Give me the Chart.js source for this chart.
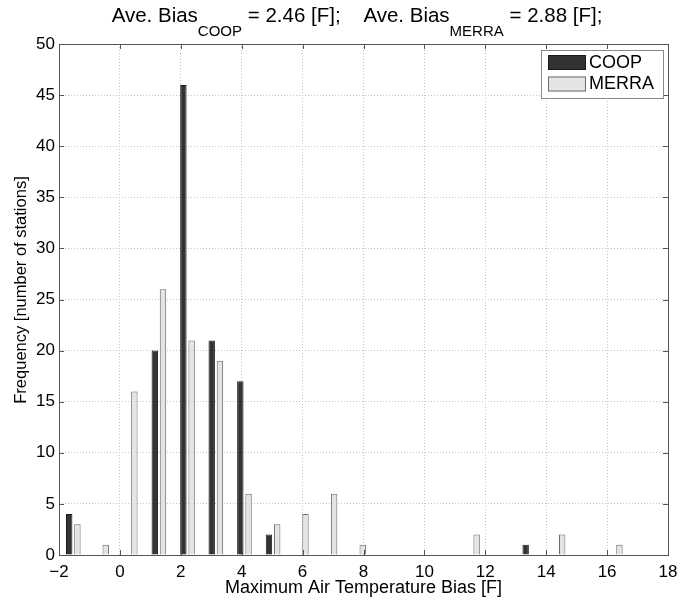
<!DOCTYPE html>
<html>
<head>
<meta charset="utf-8">
<script src="https://cdn.jsdelivr.net/npm/chart.js@4.4.0/dist/chart.umd.min.js"></script>
<style>
  html, body { margin: 0; padding: 0; background: #ffffff; }
  #wrap { width: 678px; height: 602px; position: relative; }
</style>
</head>
<body>
<div id="wrap"><canvas id="chart" width="678" height="602"></canvas></div>
<script>
// Histogram bin centres (degrees F) shared by both series
const binCenters = [-1.53, -0.60, 0.34, 1.28, 2.22, 3.15, 4.09, 5.03, 5.96, 6.90,
                    7.84, 8.77, 9.71, 10.65, 11.58, 12.52, 13.46, 14.39, 15.33, 16.27];
// Station counts per bin
const coopCounts  = [4, 0, 0, 20, 46, 21, 17, 2, 0, 0, 0, 0, 0, 0, 0, 0, 1, 0, 0, 0];
const merraCounts = [3, 1, 16, 26, 21, 19, 6, 3, 4, 6, 1, 0, 0, 0, 2, 0, 0, 2, 0, 1];
const seriesNames = ['COOP', 'MERRA'];
const averageBias = [2.46, 2.88];
const xTicks = [-2, 0, 2, 4, 6, 8, 10, 12, 14, 16, 18];
const yTicks = [0, 5, 10, 15, 20, 25, 30, 35, 40, 45, 50];
const xLabel = 'Maximum Air Temperature Bias [F]';
const yLabel = 'Frequency [number of stations]';

const FONT = '"Liberation Sans", Arial, Helvetica, sans-serif';
const seriesFill = ['#333333', '#e4e4e4'];
const seriesEdge = ['#1a1a1a', '#6a6a6a'];

function toPoints(counts) {
  return binCenters.map((x, i) => ({ x: x, y: counts[i] === 0 ? null : counts[i] }));
}

// Title with subscripted series names, axis labels, boxed frame with inward ticks, legend
const decorations = {
  id: 'decorations',
  afterDraw(chart) {
    const ctx = chart.ctx;
    const a = chart.chartArea;
    const xs = chart.scales.x, ys = chart.scales.y;
    ctx.save();

    // frame
    ctx.strokeStyle = '#555555';
    ctx.lineWidth = 1;
    ctx.strokeRect(Math.round(a.left) + 0.5, Math.round(a.top) + 0.5,
                   Math.round(a.right - a.left), Math.round(a.bottom - a.top));

    // inward tick marks on all four sides
    const tl = 5;
    ctx.beginPath();
    xTicks.forEach(v => {
      const px = Math.round(xs.getPixelForValue(v)) + 0.5;
      ctx.moveTo(px, a.bottom); ctx.lineTo(px, a.bottom - tl);
      ctx.moveTo(px, a.top); ctx.lineTo(px, a.top + tl);
    });
    yTicks.forEach(v => {
      const py = Math.round(ys.getPixelForValue(v)) + 0.5;
      ctx.moveTo(a.left, py); ctx.lineTo(a.left + tl, py);
      ctx.moveTo(a.right, py); ctx.lineTo(a.right - tl, py);
    });
    ctx.stroke();

    // title: Ave. Bias_COOP = 2.46 [F];    Ave. Bias_MERRA = 2.88 [F];
    const mainFont = '20.5px ' + FONT;
    const subFont = '15px ' + FONT;
    const parts = [];
    seriesNames.forEach((name, i) => {
      parts.push({ t: 'Ave. Bias', f: mainFont, dy: 0 });
      parts.push({ t: name, f: subFont, dy: 14 });
      parts.push({ t: ' = ' + averageBias[i].toFixed(2) + ' [F];', f: mainFont, dy: 0 });
      if (i < seriesNames.length - 1) parts.push({ t: '    ', f: mainFont, dy: 0 });
    });
    let total = 0;
    parts.forEach(p => { ctx.font = p.f; p.w = ctx.measureText(p.t).width; total += p.w; });
    let x = 357 - total / 2;
    const base = 22;
    ctx.fillStyle = '#000000';
    ctx.textAlign = 'left';
    ctx.textBaseline = 'alphabetic';
    parts.forEach(p => {
      ctx.font = p.f;
      ctx.fillText(p.t, x, base + p.dy);
      x += p.w;
    });

    // axis labels
    ctx.font = '18px ' + FONT;
    ctx.textAlign = 'center';
    ctx.textBaseline = 'middle';
    ctx.fillText(xLabel, (a.left + a.right) / 2, 588);
    ctx.save();
    ctx.translate(21, 290);
    ctx.rotate(-Math.PI / 2);
    ctx.font = '16.5px ' + FONT;
    ctx.fillText(yLabel, 0, 0);
    ctx.restore();

    // legend box in the upper right corner
    const lx = 541, ly = 50, lw = 122, lh = 48;
    ctx.fillStyle = '#ffffff';
    ctx.fillRect(lx, ly, lw, lh);
    ctx.strokeStyle = '#8a8a8a';
    ctx.strokeRect(lx + 0.5, ly + 0.5, lw, lh);
    ctx.font = '18px ' + FONT;
    ctx.textAlign = 'left';
    ctx.textBaseline = 'middle';
    seriesNames.forEach((name, i) => {
      const ry = ly + 5 + i * 21.5;
      ctx.fillStyle = seriesFill[i];
      ctx.fillRect(lx + 7, ry, 38, 15);
      ctx.strokeStyle = seriesEdge[i];
      ctx.strokeRect(lx + 7.5, ry + 0.5, 37, 14);
      ctx.fillStyle = '#000000';
      ctx.fillText(name, lx + 48, ry + 8);
    });

    ctx.restore();
  }
};

new Chart(document.getElementById('chart'), {
  type: 'bar',
  plugins: [decorations],
  data: {
    datasets: seriesNames.map((name, i) => ({
      label: name,
      data: toPoints(i === 0 ? coopCounts : merraCounts),
      backgroundColor: seriesFill[i],
      borderColor: seriesEdge[i],
      borderWidth: 1,
      borderSkipped: 'start',
      categoryPercentage: 0.58,
      barPercentage: 0.78
    }))
  },
  options: {
    responsive: false,
    animation: false,
    events: [],
    layout: { padding: { top: 44, right: 10, left: 0, bottom: 0 } },
    plugins: {
      legend: { display: false },
      title: { display: false },
      tooltip: { enabled: false }
    },
    scales: {
      x: {
        type: 'linear',
        min: -2, max: 18,
        offset: false,
        afterFit(s) { s.height = 47; s.paddingLeft = 0; s.paddingRight = 0; },
        afterBuildTicks(s) { s.ticks = xTicks.map(v => ({ value: v })); },
        grid: {
          offset: false,
          drawTicks: false,
          color: '#c4c4c4',
          lineWidth: 1
        },
        border: { display: false, dash: [1, 2] },
        ticks: {
          padding: 7,
          color: '#000000',
          font: { family: FONT, size: 17 },
          maxRotation: 0,
          callback: v => (v < 0 ? '\u2212' + Math.abs(v) : String(v))
        }
      },
      y: {
        min: 0, max: 50,
        afterFit(s) { s.width = 59; s.paddingTop = 0; s.paddingBottom = 0; },
        afterBuildTicks(s) { s.ticks = yTicks.map(v => ({ value: v })); },
        grid: {
          drawTicks: false,
          color: '#c4c4c4',
          lineWidth: 1
        },
        border: { display: false, dash: [1, 2] },
        ticks: {
          padding: 4,
          color: '#000000',
          font: { family: FONT, size: 17 }
        }
      }
    }
  }
});
</script>
</body>
</html>
